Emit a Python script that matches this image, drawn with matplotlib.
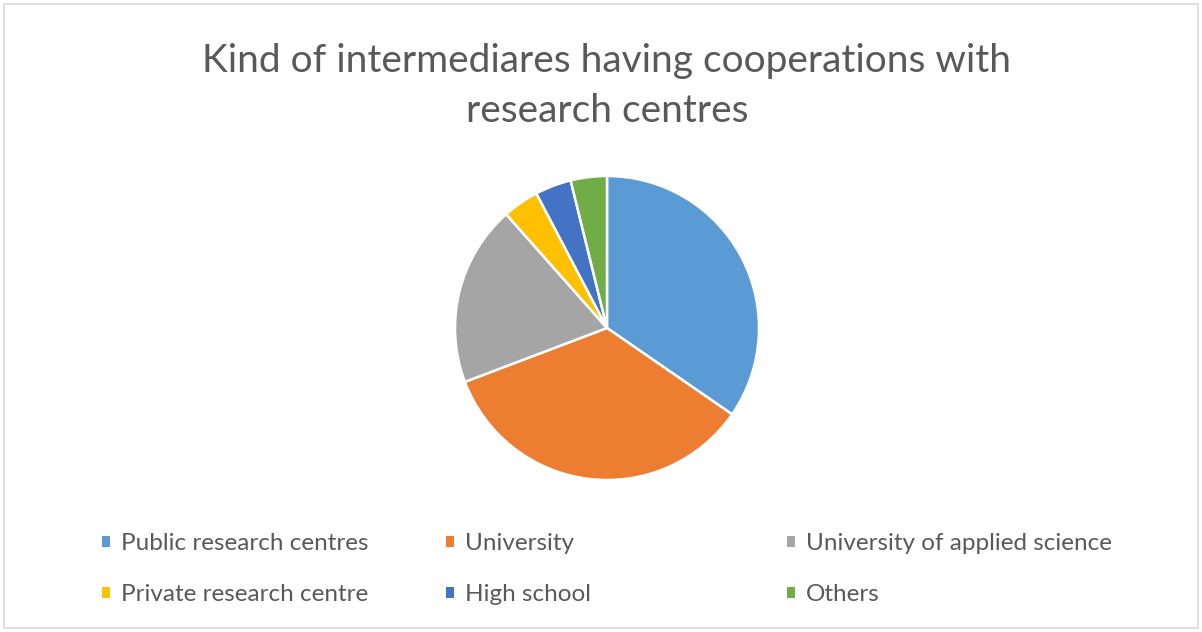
import matplotlib
matplotlib.use("Agg")
from matplotlib import pyplot as plt
from matplotlib.patches import Patch, Rectangle

categories = ["Public research centres", "University", "University of applied science",
              "Private research centre", "High school", "Others"]
counts = [9, 9, 5, 1, 1, 1]
colors = ["#5B9BD5", "#ED7D31", "#A5A5A5", "#FFC000", "#4472C4", "#70AD47"]
title_lines = ["Kind of intermediares having cooperations with", "research centres"]

plt.rcParams["font.family"] = ["Lato", "DejaVu Sans"]
W, H = 1202, 632
fig = plt.figure(figsize=(W / 100, H / 100), dpi=100)

# chart frame
fig.patches.append(Rectangle((4 / W, 4 / H), 1 - 8 / W, 1 - 8 / H, transform=fig.transFigure,
                             fill=False, edgecolor="#d9d9d9", linewidth=1.2))

# pie, centred at (607, 328) px with radius 152 px
cx, cy, r = 607, 328, 152
ax = fig.add_axes([(cx - r) / W, (H - cy - r) / H, 2 * r / W, 2 * r / H])
ax.pie(counts, colors=colors, startangle=90, counterclock=False,
       wedgeprops=dict(edgecolor="white", linewidth=1.8))
ax.set_xlim(-1, 1)
ax.set_ylim(-1, 1)
ax.set_aspect("equal")
ax.axis("off")

fig.text(cx / W, 1 - 61 / H, title_lines[0], ha="center", va="center", fontsize=28, color="#595959")
fig.text(cx / W, 1 - 111 / H, title_lines[1], ha="center", va="center", fontsize=28, color="#595959")

# legend, three columns of two rows
col_x = [102, 446, 787]
for c in range(3):
    idx = [c, c + 3]
    handles = [Patch(facecolor=colors[i], edgecolor="none") for i in idx]
    fig.legend(handles, [categories[i] for i in idx], loc="upper left",
               bbox_to_anchor=(col_x[c] / W, 1 - 533 / H), frameon=False,
               fontsize=17.5, labelcolor="#595959", handlelength=0.32, handleheight=0.32,
               handletextpad=0.45, borderpad=0, borderaxespad=0, labelspacing=1.25)

fig.savefig("out.png", dpi=100)
